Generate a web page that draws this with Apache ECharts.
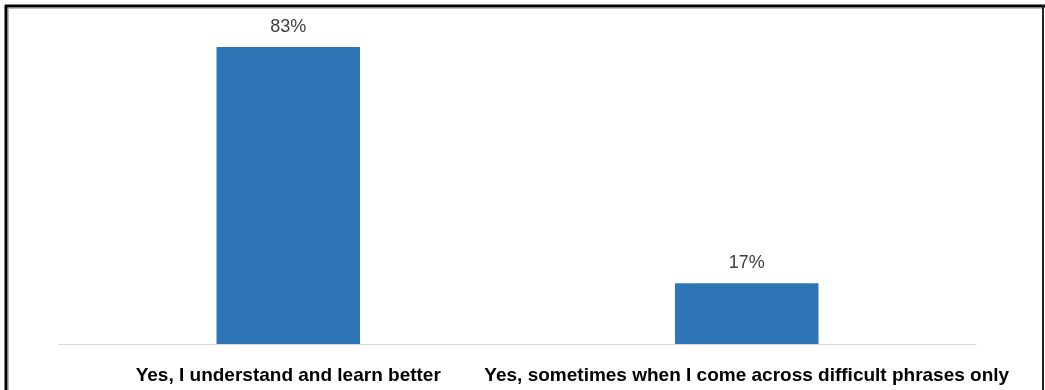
<!DOCTYPE html>
<html>
<head>
<meta charset="utf-8">
<script src="https://cdn.jsdelivr.net/npm/echarts@6/dist/echarts.min.js"></script>
<style>
html,body{margin:0;padding:0;background:#fff;}
#chart{width:1045px;height:390px;}
</style>
</head>
<body>
<div id="chart"></div>
<script>
var categories = ["Yes, I understand and learn better", "Yes, sometimes when I come across difficult phrases only"];
var values = [83, 17];

var chart = echarts.init(document.getElementById('chart'));
chart.setOption({
  animation: false,
  backgroundColor: '#ffffff',
  grid: {left: 59, right: 69, top: 22, bottom: 46},
  xAxis: {
    type: 'category',
    data: categories,
    axisLine: {show: true, lineStyle: {color: '#d9d9d9', width: 1}},
    axisTick: {show: false},
    axisLabel: {
      interval: 0,
      color: '#000000',
      fontFamily: 'Liberation Sans',
      fontWeight: 'bold',
      fontSize: 19,
      margin: 22
    }
  },
  yAxis: {
    type: 'value',
    min: 0,
    max: 90,
    show: false,
    splitLine: {show: false}
  },
  series: [{
    type: 'bar',
    data: values,
    barWidth: '31.3%',
    itemStyle: {color: '#2e75b6'},
    label: {
      show: true,
      position: 'top',
      distance: 11,
      formatter: '{c}%',
      color: '#404040',
      fontFamily: 'Liberation Sans',
      fontSize: 18
    }
  }],
  graphic: [
    {type: 'line', shape: {x1: 5, y1: 6, x2: 1045, y2: 6}, style: {stroke: '#000', lineWidth: 3}},
    {type: 'line', shape: {x1: 6, y1: 5, x2: 6, y2: 390}, style: {stroke: '#000', lineWidth: 3}},
    {type: 'line', shape: {x1: 1043, y1: 5, x2: 1043, y2: 390}, style: {stroke: '#222', lineWidth: 2}},
    {type: 'line', shape: {x1: 8, y1: 8.5, x2: 1042, y2: 8.5}, style: {stroke: '#bbb', lineWidth: 1}},
    {type: 'line', shape: {x1: 8.5, y1: 8, x2: 8.5, y2: 390}, style: {stroke: '#bbb', lineWidth: 1}}
  ]
});
</script>
</body>
</html>
